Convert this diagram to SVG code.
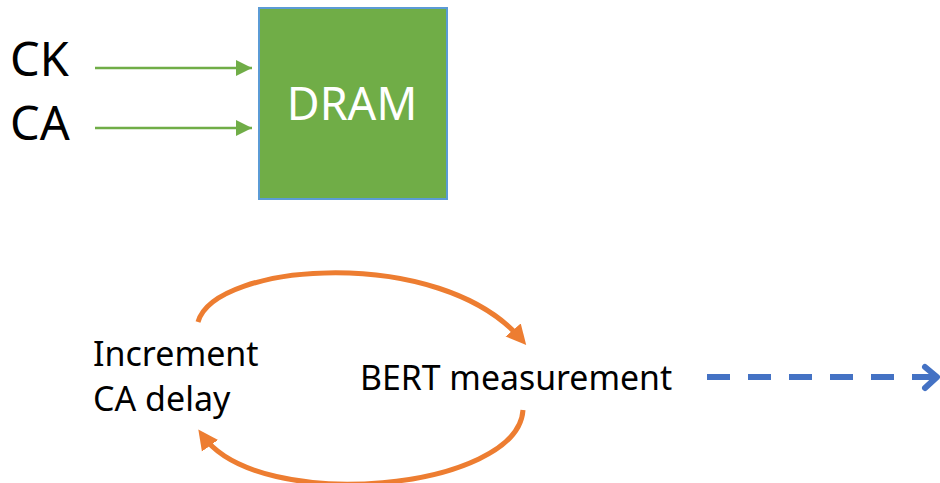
<svg xmlns="http://www.w3.org/2000/svg" width="940" height="483" viewBox="0 0 940 483">
<style>
.t{font-family:"Noto Sans","Open Sans","DejaVu Sans",sans-serif;fill:#000}
.g{stroke:#70AD47;stroke-width:2.5;fill:none}
.o{stroke:#ED7D31;stroke-width:5;fill:none}
</style>
<defs>
<marker id="ag" markerUnits="userSpaceOnUse" markerWidth="18" markerHeight="16" viewBox="0 0 18 16" refX="16" refY="8" orient="auto"><path d="M0,0 L16,8 L0,16 Z" fill="#70AD47"/></marker>
<marker id="ao" markerUnits="userSpaceOnUse" markerWidth="22" markerHeight="22" viewBox="0 0 22 22" refX="12" refY="11" orient="auto"><path d="M0,1 L20,11 L0,21 Z" fill="#ED7D31"/></marker>
</defs>
<rect width="940" height="483" fill="#fff"/>
<g id="dram">
<rect x="259" y="8" width="188" height="191" fill="#70AD47" stroke="#5B9BD5" stroke-width="2"/>
<text x="352" y="120" font-size="45" text-anchor="middle" class="t" style="fill:#fff">DRAM</text>
</g>
<g id="ck"><text x="10" y="76" font-size="47" class="t">CK</text></g>
<g id="ca"><text x="10" y="140" font-size="47" class="t">CA</text></g>
<g id="inc"><text x="93" y="366" font-size="34" class="t">Increment</text><text x="93" y="411" font-size="34" class="t">CA delay</text></g>
<g id="bert"><text x="360" y="390" font-size="33.8" class="t">BERT measurement</text></g>
<g id="connectors">
<path class="g" d="M95,68 H252" marker-end="url(#ag)"/>
<path class="g" d="M95,128 H252" marker-end="url(#ag)"/>
<path class="o" d="M198,322 C215,262 440,245 521,339" marker-end="url(#ao)"/>
<path class="o" d="M523,410 C518,490 260,515 203,436" marker-end="url(#ao)"/>
<path d="M707,377 H912" stroke="#4472C4" stroke-width="6" stroke-dasharray="23 18" fill="none"/>
<path d="M925,367 L937,377 L925,388" stroke="#4472C4" stroke-width="6" stroke-linecap="round" stroke-linejoin="round" fill="none"/>
<path d="M912,377 H935" stroke="#4472C4" stroke-width="6" fill="none"/>
</g>
</svg>
